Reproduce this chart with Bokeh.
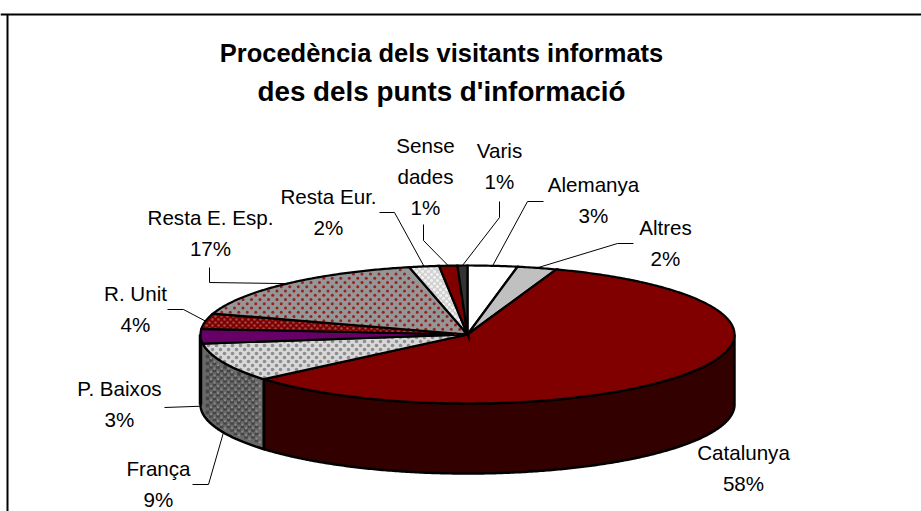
import numpy as np
from bokeh.core.properties import value
from bokeh.embed import file_html
from bokeh.models import Range1d
from bokeh.plotting import figure
from bokeh.resources import INLINE

# ---- data, clockwise from 12 o'clock
categories = ["Alemanya", "Altres", "Catalunya", "França", "P. Baixos", "R. Unit",
              "Resta E. Esp.", "Resta Eur.", "Sense dades", "Varis"]
shares = [3.0, 2.4, 58.4, 9.1, 3.4, 3.6, 16.6, 1.8, 1.1, 0.6]
title_lines = ["Procedència dels visitants informats", "des dels punts d'informació"]
label_lines = [["Alemanya"], ["Altres"], ["Catalunya"], ["França"], ["P. Baixos"], ["R. Unit"],
               ["Resta E. Esp."], ["Resta Eur."], ["Sense", "dades"], ["Varis"]]

# ---- styles
top_colors = ["#FFFFFF", "#C0C0C0", "#800000", "#D8D8D8", "#660066", "#800000",
              "#969696", "#D2D2D2", "#800000", "#333333"]
dot_colors = [None, None, None, "#8E8E8E", None, "#A04848", "#962222", "#F2F2F2", None, None]
dot_steps = [None, None, None, 8.0, None, 6.0, 8.5, 6.0, None, None]
dot_sizes = [None, None, None, 3.6, None, 2.6, 3.0, 3.0, None, None]
CX, CY, A, B, DEPTH = 467.0, 334.0, 267.0, 69.0, 70.0
# label block centres (x, y of first line) and leader bends
label_xy = [(593, 184), (665, 227), (743, 452), (158, 468), (119, 388), (135, 293),
            (210, 217), (328, 196), (425, 145), (499, 150)]
leaders = [[(543, 201), (527, 201)], [(633, 243), (617, 243)], None, [(192, 484), (208, 484)],
           [(164, 407)], [(167, 309), (183, 309)], [(209, 267), (209, 282)],
           [(379, 212), (394, 212)], [(423, 224), (423, 240)], [(499, 201), (499, 217)]]
LINE_H = 31

W, H = 921, 511
p = figure(width=W, height=H, x_range=Range1d(0, W), y_range=Range1d(H, 0),
           output_backend="svg", toolbar_location=None, min_border=0,
           x_axis_type="linear", y_axis_type="linear")
p.axis.visible = False
p.grid.visible = False
p.outline_line_color = None
p.background_fill_color = "white"
p.border_fill_color = "white"


def rim(deg, drop=0.0):
    t = np.radians(deg)
    return CX + A * np.sin(t), CY - B * np.cos(t) + drop


total = sum(shares)
edges = np.concatenate([[0.0], np.cumsum(shares) / total * 360.0])


def arc(t0, t1, drop=0.0):
    ts = np.linspace(t0, t1, max(int(abs(t1 - t0)) * 2 + 2, 4))
    return rim(ts, drop)


def lattice(step, x0, x1, y0, y1):
    xs, ys = [], []
    rows = int((y1 - y0) / (step / 2)) + 1
    for r in range(rows):
        y = y0 + r * step / 2
        off = step / 2 if r % 2 else 0.0
        for x in np.arange(x0 + off, x1, step):
            xs.append(x)
            ys.append(y)
    return np.array(xs), np.array(ys)


def dots_top(t0, t1, step, inset=1.5):
    xs, ys = lattice(step, CX - A, CX + A, CY - B, CY + B)
    dx = (xs - CX) / (A - inset)
    dy = (CY - ys) / (B - inset)
    ang = np.degrees(np.arctan2(dx, dy)) % 360
    keep = (dx ** 2 + dy ** 2 <= 1) & (ang > t0 + 0.5) & (ang < t1 - 0.5)
    return xs[keep], ys[keep]


# ---- side wall
def side_patch(t0, t1, color, lw=2.5):
    ax, ay = arc(t0, t1)
    bx, by = arc(t1, t0, DEPTH)
    p.patch(np.concatenate([ax, bx]), np.concatenate([ay, by]), fill_color=color,
            line_color="black", line_width=lw, line_join="miter")


side_patch(90.0, edges[3], "#330000")
side_patch(edges[3], 270.0, "#686868")
# pattern on the França wall
wall_right = rim(edges[3])[0]
xs, ys = lattice(7.0, CX - A, wall_right - 5.5, CY - 20, CY + B + DEPTH)
t = np.arcsin(np.clip((xs - CX) / A, -1, 1))
upper = CY + B * np.cos(t)
lower = upper + DEPTH
keep = (ys > upper + 3) & (ys < lower - 4) & (xs > CX - A + 4)
p.scatter(xs[keep], ys[keep], size=3.4, marker="square", color="#454545", line_color=None)
p.scatter(xs[keep] + 3.5, ys[keep] + 1.75, size=2.2, marker="square", color="#8A8A8A", line_color=None)
# boundary and left edge of the wall over the pattern
bx0, by0 = rim(edges[3])
p.line([bx0, bx0], [by0, by0 + DEPTH], line_color="black", line_width=2.5)
p.line([CX - A, CX - A], [CY, CY + DEPTH], line_color="black", line_width=3.5)

# ---- top face: fills, textures, then outlines
for i in range(len(shares)):
    ax, ay = arc(edges[i], edges[i + 1])
    px = np.concatenate([[CX], ax])
    py = np.concatenate([[CY], ay])
    p.patch(px, py, fill_color=top_colors[i], line_color=None)
    if dot_colors[i]:
        dx_, dy_ = dots_top(edges[i], edges[i + 1], dot_steps[i])
        p.scatter(dx_, dy_, size=dot_sizes[i], marker="circle", color=dot_colors[i], line_color=None)
    p.patch(px, py, fill_color=None, line_color="black", line_width=2.2, line_join="miter")

# ---- frame
p.line([0, W], [14, 14], line_color="black", line_width=2)
p.line([7, 7], [14, H], line_color="black", line_width=2)

# ---- leaders
for i, pts in enumerate(leaders):
    if not pts:
        continue
    mid = (edges[i] + edges[i + 1]) / 2
    drop = DEPTH if 200 < mid < 270 else 0.0
    ex, ey = rim(mid, drop)
    xs_ = [q[0] for q in pts] + [float(ex)]
    ys_ = [q[1] for q in pts] + [float(ey)]
    p.line(xs_, ys_, line_color="black", line_width=1)

# ---- texts
FONT = value("Liberation Sans")
title_sizes = ["25.5px", "27.8px"]
for k, line in enumerate(title_lines):
    p.text([441], [52 + 39 * k], text=[line], text_font=FONT, text_font_size=title_sizes[k],
           text_font_style="bold", text_align="center", text_baseline="middle", text_color="black")
for i, lines in enumerate(label_lines):
    x, y = label_xy[i]
    rows = lines + [f"{round(shares[i])}%"]
    for k, line in enumerate(rows):
        p.text([x], [y + LINE_H * k], text=[line], text_font=FONT, text_font_size="20.6px",
               text_align="center", text_baseline="middle", text_color="black")

open("out.html", "w").write(file_html(p, INLINE))
